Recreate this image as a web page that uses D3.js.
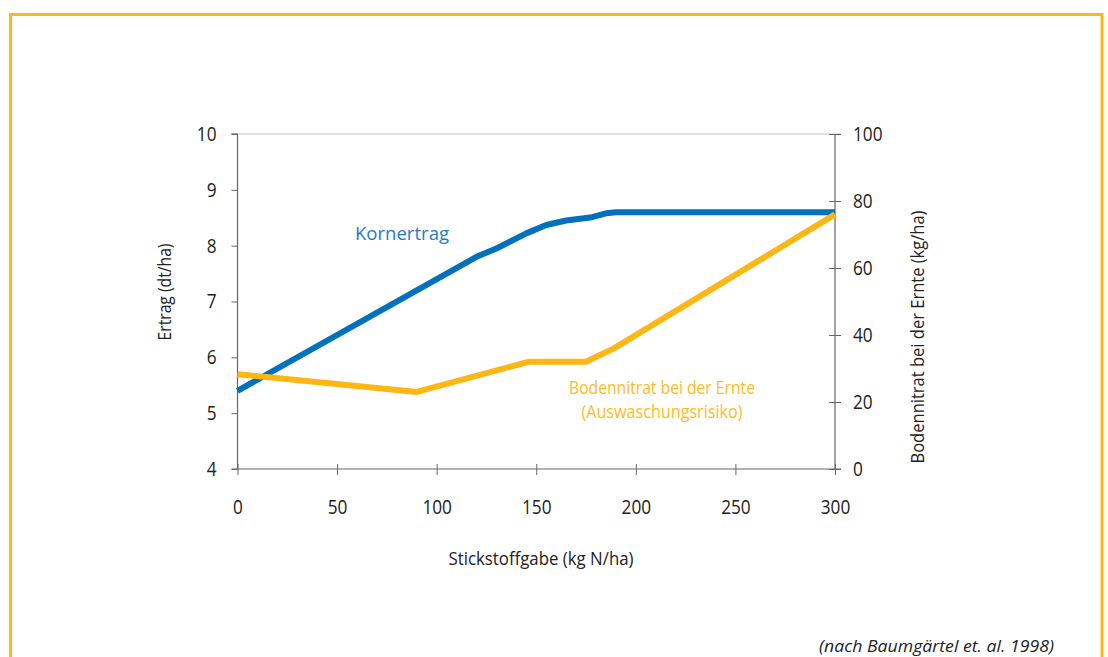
<!DOCTYPE html>
<html>
<head>
<meta charset="utf-8">
<script src="https://cdn.jsdelivr.net/npm/d3@7"></script>
<style>
  html, body { margin: 0; padding: 0; background: #fff; }
  svg { display: block; }
  text { font-family: "Open Sans", "Noto Sans", sans-serif; }
</style>
</head>
<body>
<svg id="chart" width="1108" height="657"></svg>
<script>
// Stickstoffgabe (kg N/ha) and the measured responses
const nitrogenRate = [0, 120, 130, 145, 155, 165, 178, 185, 190, 300];
const grainYield   = [5.4, 7.8, 7.95, 8.22, 8.37, 8.45, 8.51, 8.58, 8.6, 8.6];

const nitrateRate  = [0, 90, 146, 175, 189, 300];
const soilNitrate  = [28.3, 23, 32, 32, 36, 76];

const xTicks       = [0, 50, 100, 150, 200, 250, 300];
const yieldTicks   = [4, 5, 6, 7, 8, 9, 10];
const nitrateTicks = [0, 20, 40, 60, 80, 100];

const svg = d3.select("#chart");

// Narrow the glyphs of a text to a given width (condensed look)
function condense(sel, width) {
  sel.attr("textLength", width).attr("lengthAdjust", "spacingAndGlyphs");
  return sel;
}
function condenseBy(sel, factor) {
  sel.each(function () {
    const w = this.getComputedTextLength();
    d3.select(this).attr("textLength", w * factor).attr("lengthAdjust", "spacingAndGlyphs");
  });
}

// Frame around the figure
svg.append("rect")
  .attr("x", 10.5).attr("y", 14.5)
  .attr("width", 1091.5).attr("height", 700)
  .attr("fill", "none")
  .attr("stroke", "#fbb817")
  .attr("stroke-width", 3);

const x  = d3.scaleLinear().domain([0, 300]).range([237.5, 835]);
const yL = d3.scaleLinear().domain([4, 10]).range([469, 134]);
const yR = d3.scaleLinear().domain([0, 100]).range([469, 134]);

const axisColor = "#666";

// Top edge of the plot area
svg.append("line")
  .attr("x1", x(0) - 6).attr("x2", x(300) + 6)
  .attr("y1", yL(10)).attr("y2", yL(10))
  .attr("stroke", "#c8c8c8").attr("stroke-width", 1.2);

// Left axis (Ertrag)
const gL = svg.append("g").attr("transform", `translate(${x(0)},0)`)
  .call(d3.axisLeft(yL).tickValues(yieldTicks).tickSize(6).tickPadding(15).tickFormat(d3.format("d")));

// Right axis (Bodennitrat)
const gR = svg.append("g").attr("transform", `translate(${x(300)},0)`)
  .call(d3.axisRight(yR).tickValues(nitrateTicks).tickSize(6).tickPadding(12).tickFormat(d3.format("d")));
gR.selectAll(".tick line").attr("x1", -6);

// Bottom axis
const gB = svg.append("g").attr("transform", `translate(0,${yL(4)})`)
  .call(d3.axisBottom(x).tickValues(xTicks).tickSize(6).tickPadding(25).tickFormat(d3.format("d")));
gB.selectAll(".tick line").attr("y1", -5);

[gL, gR, gB].forEach(g => {
  g.select(".domain").attr("stroke", axisColor).attr("stroke-width", 1.2);
  g.selectAll(".tick line").attr("stroke", axisColor).attr("stroke-width", 1);
  g.selectAll(".tick text").attr("font-size", 20).attr("fill", "#222")
    .style("font-family", "\"Open Sans\", \"Noto Sans\", sans-serif");
  condenseBy(g.selectAll(".tick text"), 0.86);
});
gL.select(".domain").attr("d", `M-6,${yL(10)}H0V${yL(4)}`);
gR.select(".domain").attr("d", `M0,${yR(100)}V${yR(0)}`);
gB.select(".domain").attr("d", `M${x(0) - 6},0H${x(300) + 6}`);

// Axis titles
condense(svg.append("text")
  .attr("transform", `translate(171,292) rotate(-90)`)
  .attr("text-anchor", "middle").attr("font-size", 19).attr("fill", "#222")
  .text("Ertrag (dt/ha)"), 97);

condense(svg.append("text")
  .attr("transform", `translate(924,337) rotate(-90)`)
  .attr("text-anchor", "middle").attr("font-size", 19).attr("fill", "#222")
  .text("Bodennitrat bei der Ernte (kg/ha)"), 253);

condense(svg.append("text")
  .attr("x", 541).attr("y", 565)
  .attr("text-anchor", "middle").attr("font-size", 19).attr("fill", "#222")
  .text("Stickstoffgabe (kg N/ha)"), 185);

// Series
const yieldLine = d3.line().x((d, i) => x(nitrogenRate[i])).y(d => yL(d));
const nitrateLine = d3.line().x((d, i) => x(nitrateRate[i])).y(d => yR(d));

svg.append("path")
  .attr("d", yieldLine(grainYield))
  .attr("fill", "none").attr("stroke", "#0071bc")
  .attr("stroke-width", 6).attr("stroke-linejoin", "round");

svg.append("path")
  .attr("d", nitrateLine(soilNitrate))
  .attr("fill", "none").attr("stroke", "#fdb714")
  .attr("stroke-width", 6).attr("stroke-linejoin", "round");

// Series labels
condense(svg.append("text")
  .attr("x", 402).attr("y", 240)
  .attr("text-anchor", "middle").attr("font-size", 19).attr("fill", "#1f7cc6")
  .text("Kornertrag"), 94);

const nl = svg.append("g").attr("font-size", 17.5).attr("fill", "#fbbb2c").attr("text-anchor", "middle");
condense(nl.append("text").attr("x", 662).attr("y", 394).text("Bodennitrat bei der Ernte"), 186);
condense(nl.append("text").attr("x", 662).attr("y", 418).text("(Auswaschungsrisiko)"), 161);

// Source note
condense(svg.append("text")
  .attr("x", 1054).attr("y", 652)
  .attr("text-anchor", "end").attr("font-size", 17).attr("font-style", "italic").attr("fill", "#222")
  .text("(nach Baumgärtel et. al. 1998)"), 235);
</script>
</body>
</html>
